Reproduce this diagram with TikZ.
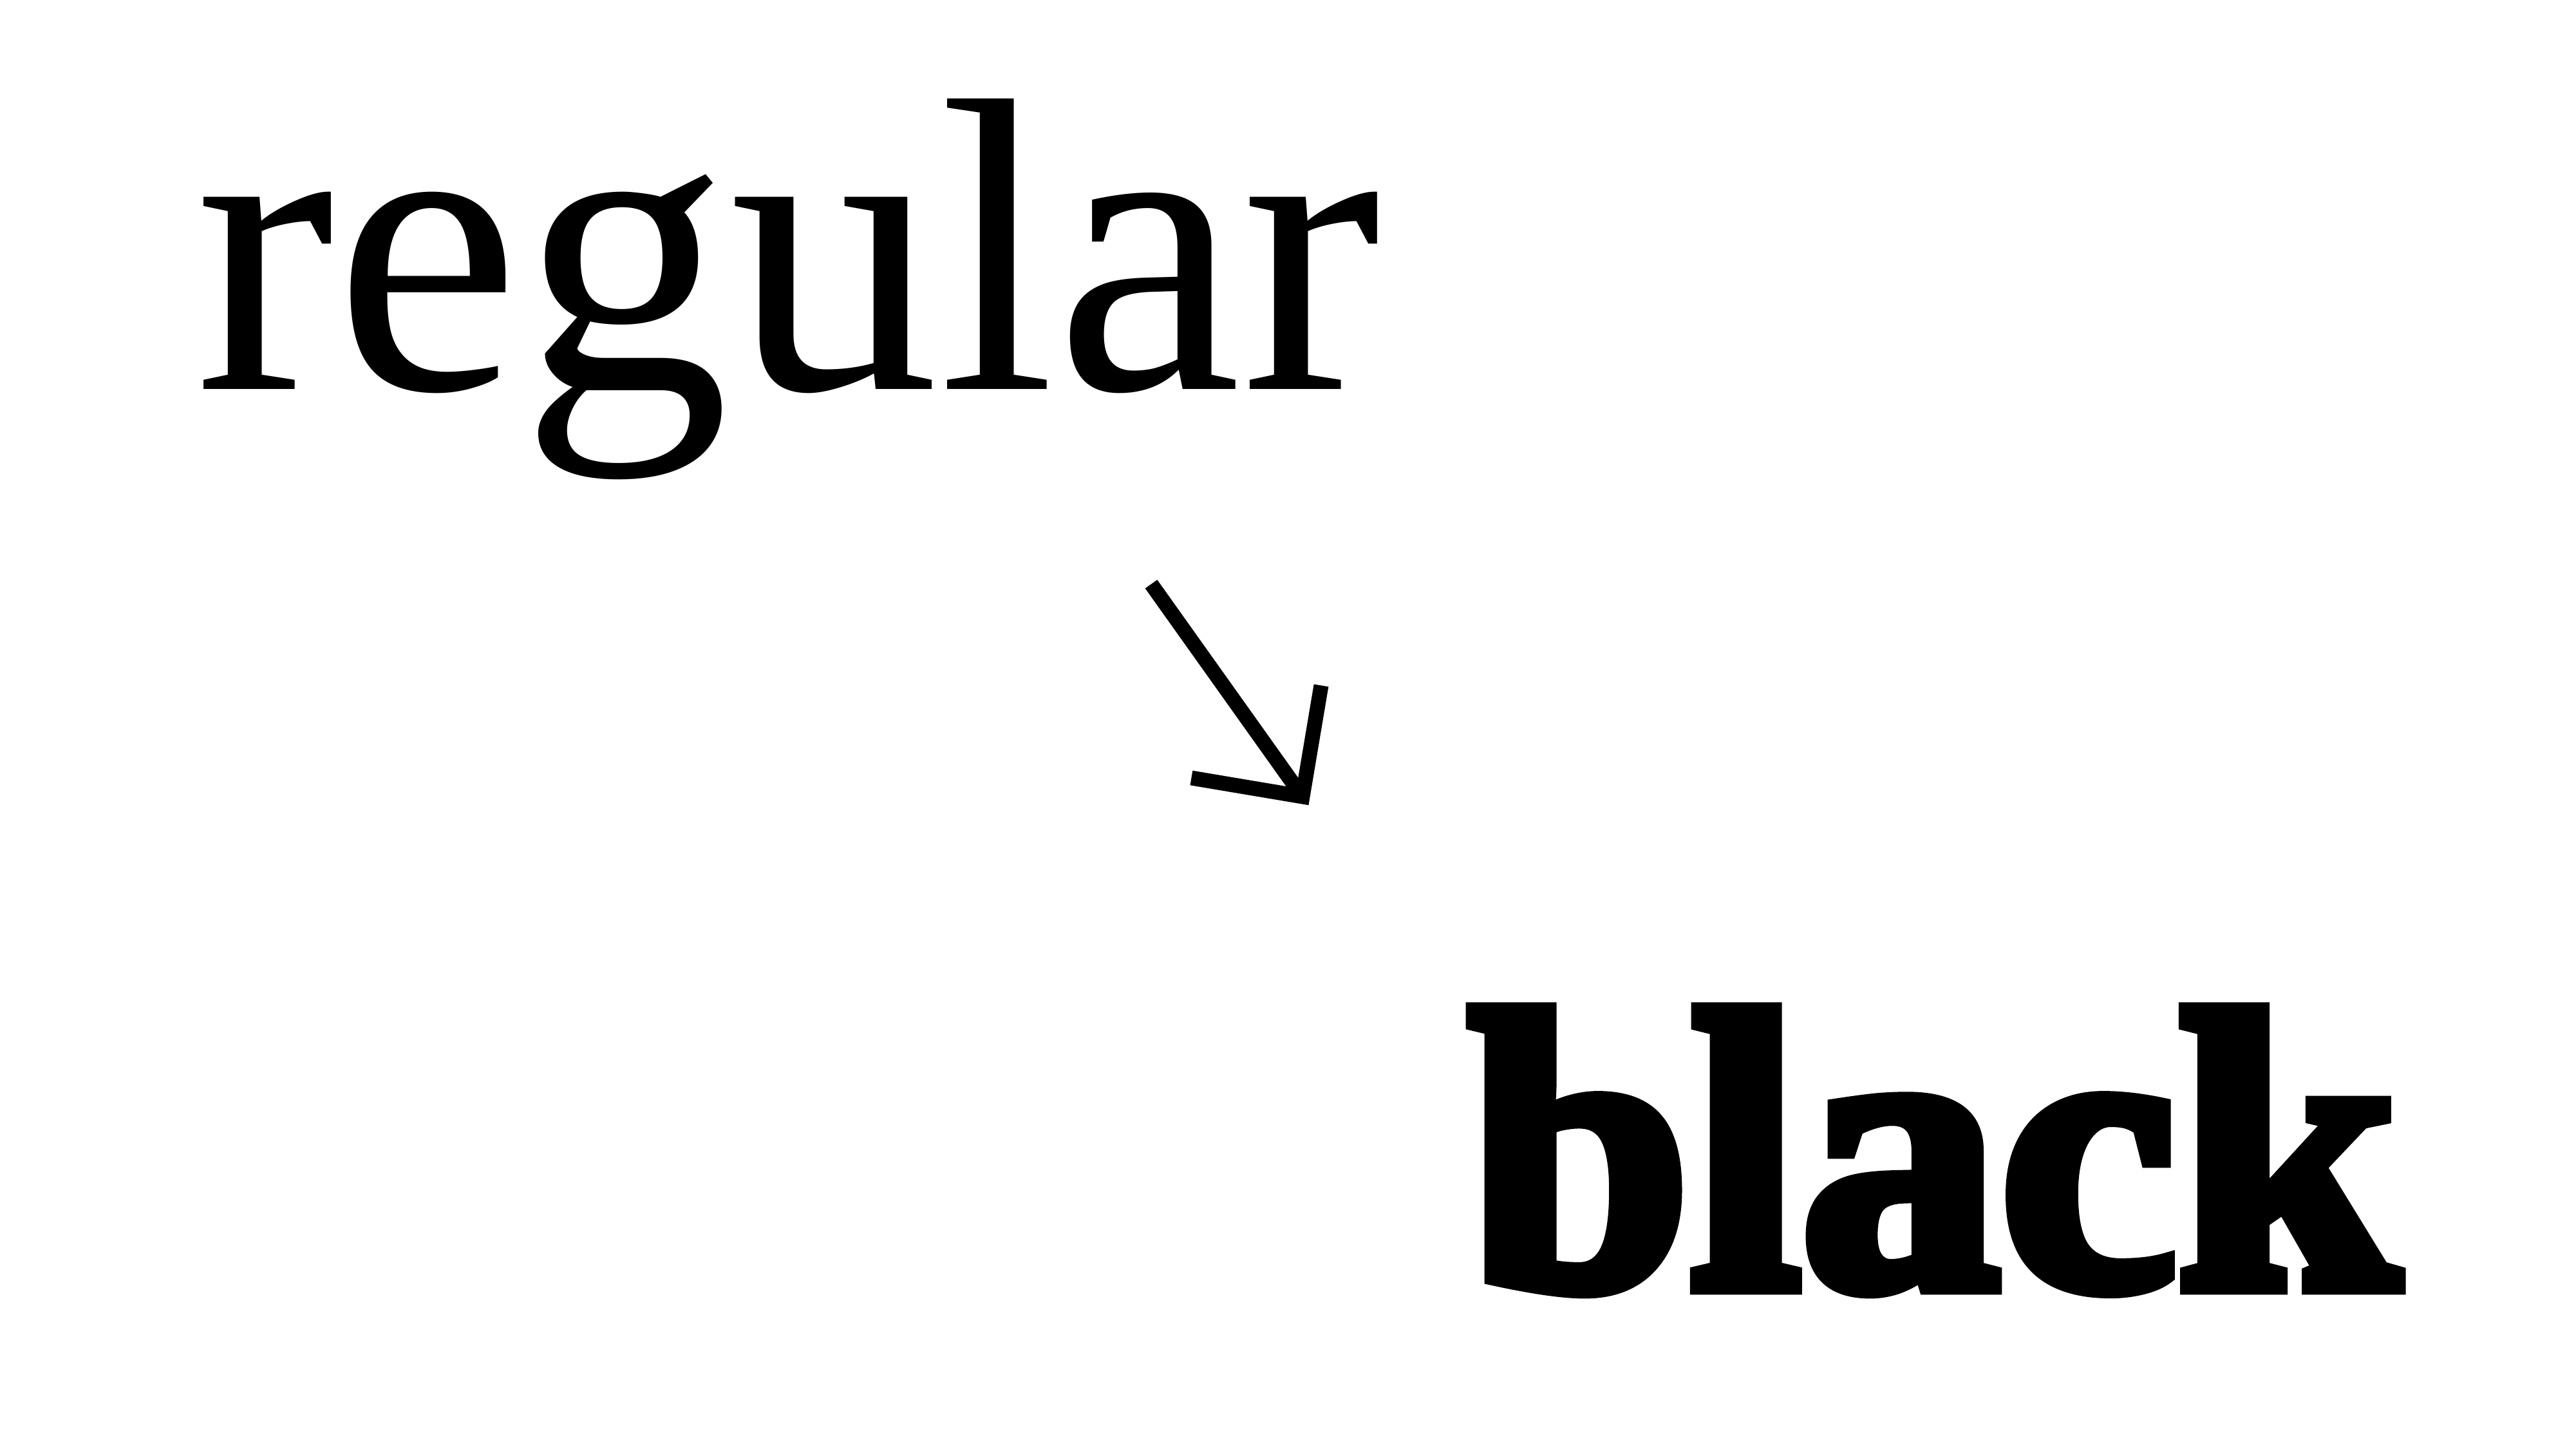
\documentclass[tikz,border=0pt]{standalone}
\usepackage{fontspec}
\usepackage{tikz}
\usetikzlibrary{calc}
\newfontfamily\regularfont{Liberation Serif}
\newfontfamily\blackfont[FakeBold=4]{Liberation Serif Bold}

\begin{document}
\begin{tikzpicture}
    [Word/.style={inner sep=0pt, outer sep=0pt, anchor=base},
     Stroke/.style={line width=0.23cm, line join=miter}]
	\useasboundingbox (0,0) rectangle (40.01,22.5);
	\node[Word, font=\regularfont\fontsize{185}{185}\selectfont] (T-regular) at (12.24, 16.45) {regular};
	\node[Word, font=\blackfont\fontsize{176}{176}\selectfont] (T-black) at (30.03, 2.52) {black};
	\coordinate (A-start) at (17.88, 13.43);
	\coordinate (A-tip) at (20.23, 10.13);
	\draw[Stroke] (A-start) -- (A-tip);
	\draw[Stroke] ($(A-tip)!1.75cm!45:(A-start)$) -- (A-tip) -- ($(A-tip)!1.75cm!-45:(A-start)$);
\end{tikzpicture}
\end{document}
